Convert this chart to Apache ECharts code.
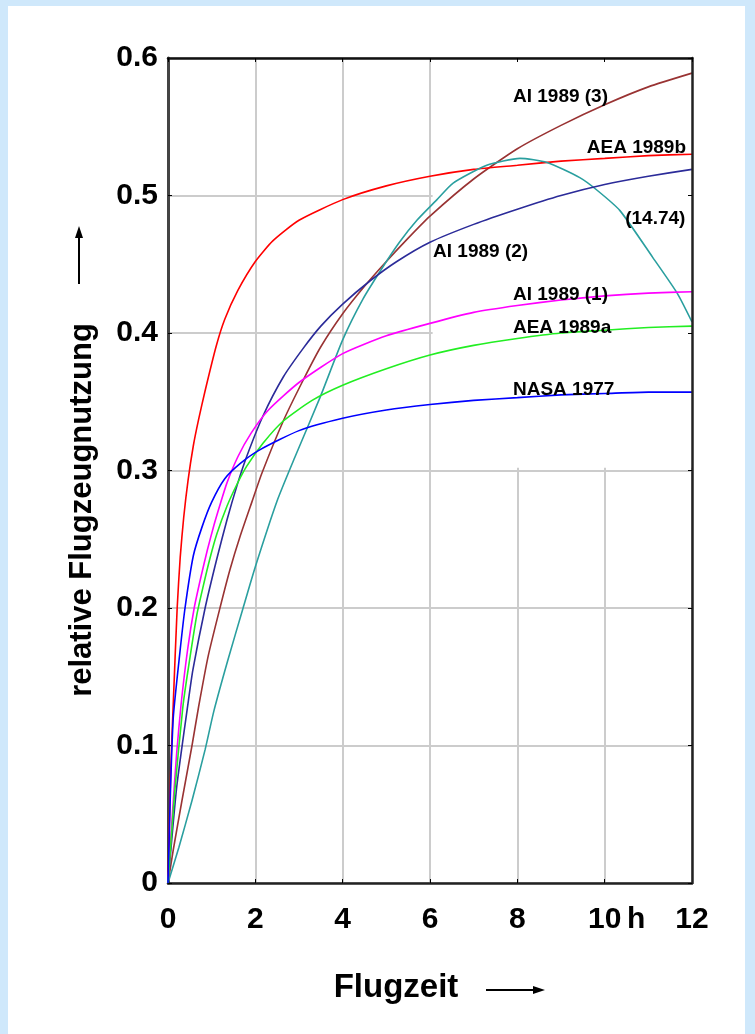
<!DOCTYPE html>
<html>
<head>
<meta charset="utf-8">
<script src="https://cdn.jsdelivr.net/npm/echarts@6/dist/echarts.min.js"></script>
<style>
html,body{margin:0;padding:0;background:#cfe8fb;width:755px;height:1034px;overflow:hidden;}
#panel{position:absolute;left:8px;top:6px;width:737px;height:1028px;background:#fff;}
#chart{position:absolute;left:0;top:0;width:755px;height:1034px;}
</style>
</head>
<body>
<div id="panel"></div>
<div id="chart"></div>
<script>
// ---- data ----
const xTicks = [0, 2, 4, 6, 8, 10, 12];
const yTickLabels = ['0', '0.1', '0.2', '0.3', '0.4', '0.5', '0.6'];
const xUnit = 'h';
const xTitle = 'Flugzeit';
const yTitle = 'relative Flugzeugnutzung';

const ai1989_3 = [[0,0],[0.12,0.024],[0.32,0.06],[0.55,0.1],[0.7,0.128],[0.92,0.165],[1.19,0.2],[1.42,0.228],[1.65,0.252],[1.92,0.277],[2.15,0.298],[2.64,0.336],[3.1,0.366],[3.5,0.39],[4,0.414],[4.5,0.434],[5,0.452],[5.5,0.469],[6,0.485],[7,0.512],[8,0.534],[9,0.551],[10,0.566],[11,0.579],[12,0.589]];
const aea1989b = [[0,0],[0.06,0.08],[0.12,0.13],[0.21,0.2],[0.28,0.237],[0.36,0.266],[0.46,0.293],[0.58,0.318],[0.7,0.337],[0.85,0.358],[1.1,0.39],[1.3,0.41],[1.6,0.431],[2,0.452],[2.4,0.467],[3,0.482],[4,0.497],[5,0.507],[6,0.514],[7,0.519],[8,0.522],[9,0.525],[10,0.527],[11,0.529],[12,0.53]];
const case1474 = [[0,0],[0.25,0.026],[0.55,0.06],[0.85,0.097],[1.05,0.125],[1.37,0.162],[1.72,0.2],[2.0,0.23],[2.5,0.278],[2.91,0.31],[3.48,0.353],[4,0.395],[4.47,0.425],[4.92,0.448],[5.3,0.466],[5.7,0.482],[6.16,0.497],[6.53,0.509],[7.3,0.522],[8.06,0.527],[8.68,0.524],[9.43,0.513],[9.82,0.504],[10.35,0.489],[11.1,0.455],[11.66,0.429],[12,0.408]];
const ai1989_2 = [[0,0],[0.2,0.07],[0.46,0.131],[0.57,0.155],[0.85,0.2],[1.12,0.236],[1.35,0.264],[1.58,0.289],[1.8,0.31],[2.18,0.34],[2.64,0.368],[3.1,0.389],[3.5,0.405],[4,0.421],[4.63,0.438],[5.24,0.452],[6,0.466],[7,0.479],[8,0.49],[9,0.5],[10,0.508],[11,0.514],[12,0.519]];
const ai1989_1 = [[0,0],[0.1,0.05],[0.2,0.095],[0.3,0.13],[0.45,0.17],[0.6,0.2],[0.75,0.222],[0.9,0.242],[1.05,0.26],[1.2,0.276],[1.35,0.291],[1.6,0.31],[1.9,0.327],[2.3,0.344],[3,0.364],[4,0.385],[5,0.398],[6,0.407],[7,0.415],[8,0.42],[9,0.424],[10,0.427],[11,0.429],[12,0.43]];
const aea1989a = [[0,0],[0.15,0.065],[0.34,0.128],[0.46,0.155],[0.66,0.195],[0.8,0.215],[0.96,0.236],[1.12,0.254],[1.35,0.274],[1.58,0.29],[1.8,0.303],[2.18,0.32],[2.64,0.336],[3.3,0.351],[4,0.362],[5,0.374],[6,0.384],[7,0.391],[8,0.396],[9,0.4],[10,0.402],[11,0.404],[12,0.405]];
const nasa1977 = [[0,0],[0.05,0.06],[0.12,0.12],[0.27,0.167],[0.39,0.2],[0.58,0.238],[0.78,0.259],[1.0,0.277],[1.3,0.294],[1.65,0.305],[2.1,0.315],[3,0.329],[4,0.338],[5,0.344],[6,0.348],[7,0.351],[8,0.353],[9,0.355],[10,0.356],[11,0.357],[12,0.357]];

const seriesNames = ['AI 1989 (3)', 'AEA 1989b', '(14.74)', 'AI 1989 (2)', 'AI 1989 (1)', 'AEA 1989a', 'NASA 1977'];
const seriesData = [ai1989_3, aea1989b, case1474, ai1989_2, ai1989_1, aea1989a, nasa1977];
const seriesColors = ['#993333', '#ff0000', '#2a9f9f', '#2b2b99', '#ff00ff', '#22ee22', '#0000ff'];

// curve label anchors (left-middle of text), in data units
const labelX = [7.9, 9.59, 10.47, 6.07, 7.9, 7.9, 7.9];
const labelY = [0.572, 0.535, 0.483, 0.459, 0.428, 0.404, 0.359];

// blank (white) region of the grid behind the labels
const blankX = [6.06, 12];
const blankY = [0.302, 0.6];

// ---- chart ----
const FONT = '"Liberation Sans", Arial, sans-serif';
const chart = echarts.init(document.getElementById('chart'), null, {renderer: 'canvas'});

const lineSeries = seriesData.map((d, i) => ({
  name: seriesNames[i],
  type: 'line',
  data: d,
  showSymbol: false,
  symbol: 'none',
  smooth: 0.2,
  z: 3,
  lineStyle: {color: seriesColors[i], width: 1.6},
  xAxisIndex: 0, yAxisIndex: 0
}));

const labelStyle = {color: '#000', opacity: 1, fontFamily: FONT, fontWeight: 'bold'};

const option = {
  animation: false,
  backgroundColor: 'transparent',
  grid: {left: 168, right: 63, top: 58, bottom: 151},
  xAxis: [
    {
      type: 'value', min: 0, max: 12, interval: 2, position: 'bottom', z: 0,
      axisLine: {show: true, onZero: false, lineStyle: {color: '#222', width: 2.5}},
      axisTick: {show: true, inside: true, length: 4, lineStyle: {color: '#000', width: 1}},
      axisLabel: {
        show: true, margin: 22, color: '#000', fontFamily: FONT, fontWeight: 'bold', fontSize: 30,
        formatter: v => (xTicks.indexOf(v) >= 0 ? String(v) : '')
      },
      splitLine: {show: true, lineStyle: {color: '#cccccc', width: 2}}
    },
    {
      type: 'value', min: 0, max: 12, interval: 2, position: 'top', z: 10,
      axisLine: {show: true, onZero: false, lineStyle: {color: '#111', width: 2.5}},
      axisTick: {show: true, inside: true, length: 4, lineStyle: {color: '#000', width: 1}},
      axisLabel: {show: false}, splitLine: {show: false}
    }
  ],
  yAxis: [
    {
      type: 'value', min: 0, max: 0.6, interval: 0.1, position: 'left', z: 0,
      axisLine: {show: true, onZero: false, lineStyle: {color: '#444', width: 3}},
      axisTick: {show: true, inside: true, length: 4, lineStyle: {color: '#000', width: 1}},
      axisLabel: {
        show: true, margin: 10, color: '#000', fontFamily: FONT, fontWeight: 'bold', fontSize: 30,
        formatter: (v) => yTickLabels[Math.round(v * 10)]
      },
      splitLine: {show: true, lineStyle: {color: '#cccccc', width: 2}}
    },
    {
      type: 'value', min: 0, max: 0.6, interval: 0.1, position: 'right', z: 10,
      axisLine: {show: true, onZero: false, lineStyle: {color: '#222', width: 2.5}},
      axisTick: {show: true, inside: true, length: 4, lineStyle: {color: '#000', width: 1}},
      axisLabel: {show: false}, splitLine: {show: false}
    }
  ],
  series: [
    {
      type: 'line', data: [[blankX[0], blankY[0]]], symbol: 'none', z: 1, silent: true,
      lineStyle: {opacity: 0},
      markArea: {
        silent: true,
        itemStyle: {color: '#ffffff', opacity: 1},
        data: [[{coord: [blankX[0], blankY[0]]}, {coord: [blankX[1], blankY[1]]}]]
      }
    },
    ...lineSeries,
    {
      type: 'scatter', z: 6, symbolSize: 0, silent: true,
      itemStyle: {opacity: 1},
      data: seriesNames.map((n, i) => ({name: n, value: [labelX[i], labelY[i]]})),
      label: Object.assign({show: true, position: 'right', distance: 0, formatter: p => p.name, fontSize: 19}, labelStyle)
    },
    {
      type: 'scatter', z: 6, symbolSize: 0, silent: true,
      itemStyle: {opacity: 1},
      data: [{name: xUnit, value: [10.72, 0]}],
      label: Object.assign({show: true, position: 'bottom', distance: 22, formatter: p => p.name, fontSize: 30}, labelStyle)
    }
  ],
  graphic: [
    {
      type: 'text', x: 82, y: 510, rotation: Math.PI / 2,
      style: {text: yTitle, fill: '#000', font: 'bold 31px ' + FONT, textAlign: 'center', textVerticalAlign: 'middle'}
    },
    {type: 'line', shape: {x1: 79, y1: 284, x2: 79, y2: 236}, style: {stroke: '#000', lineWidth: 2}},
    {type: 'polygon', shape: {points: [[79, 226], [75, 238], [83, 238]]}, style: {fill: '#000'}},
    {
      type: 'text', x: 396, y: 988,
      style: {text: xTitle, fill: '#000', font: 'bold 33px ' + FONT, textAlign: 'center', textVerticalAlign: 'middle'}
    },
    {type: 'line', shape: {x1: 486, y1: 990, x2: 536, y2: 990}, style: {stroke: '#000', lineWidth: 2}},
    {type: 'polygon', shape: {points: [[545, 990], [533, 986], [533, 994]]}, style: {fill: '#000'}}
  ]
};
chart.setOption(option);
</script>
</body>
</html>
